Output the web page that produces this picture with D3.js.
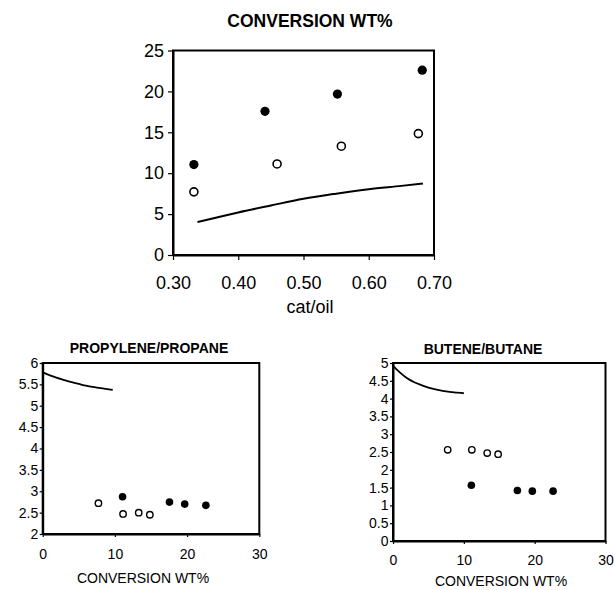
<!DOCTYPE html>
<html>
<head>
<meta charset="utf-8">
<script src="https://cdn.jsdelivr.net/npm/d3@7"></script>
<style>
  html, body { margin: 0; padding: 0; background: #fff; }
  svg { display: block; font-family: Arial, "Liberation Sans", sans-serif; }
</style>
</head>
<body>
<svg id="chart" width="615" height="590"></svg>
<script>
// Conversion (wt%) against catalyst/oil ratio, two catalyst series
const catOilFilled = [0.332, 0.441, 0.552, 0.682];
const convFilled   = [11.06, 17.56, 19.67, 22.6];
const catOilOpen   = [0.332, 0.4595, 0.558, 0.676];
const convOpen     = [7.72, 11.13, 13.3, 14.84];

// Reference curve for conversion vs cat/oil
const convCurveX = [0.3375, 0.40, 0.45, 0.50, 0.55, 0.60, 0.65, 0.683];
const convCurveY = [4.02, 5.2, 6.05, 6.87, 7.5, 8.05, 8.45, 8.74];

// Olefin / paraffin ratios against conversion
const propFilled = [2.87, 2.746, 2.70, 2.67];
const propOpen   = [2.72, 2.47, 2.50, 2.45];
const butFilled  = [1.565, 1.42, 1.40, 1.40];
const butOpen    = [2.56, 2.56, 2.47, 2.44];

// Reference curves for the ratio panels
const propCurveX = [0, 1, 2, 3, 4, 5, 6, 7, 8, 9.7];
const propCurveY = [5.78, 5.71, 5.65, 5.60, 5.55, 5.51, 5.47, 5.44, 5.41, 5.37];
const butCurveX  = [0, 0.5, 1, 2, 3, 4, 5, 6, 7, 8, 9, 10];
const butCurveY  = [4.92, 4.82, 4.73, 4.57, 4.46, 4.38, 4.31, 4.26, 4.22, 4.19, 4.17, 4.15];

// Tick values
const topXTicks  = [0.30, 0.40, 0.50, 0.60, 0.70];
const topYTicks  = [0, 5, 10, 15, 20, 25];
const convTicks  = [0, 10, 20, 30];
const propTicks  = [2, 2.5, 3, 3.5, 4, 4.5, 5, 5.5, 6];
const butTicks   = [0, 0.5, 1, 1.5, 2, 2.5, 3, 3.5, 4, 4.5, 5];

const svg = d3.select("#chart");

function panel(cfg) {
  const g = svg.append("g");
  const x = d3.scaleLinear().domain(cfg.xDomain).range([cfg.left, cfg.right]);
  const y = d3.scaleLinear().domain(cfg.yDomain).range([cfg.bottom, cfg.top]);

  // frame
  g.append("rect")
    .attr("x", cfg.left).attr("y", cfg.top)
    .attr("width", cfg.right - cfg.left).attr("height", cfg.bottom - cfg.top)
    .attr("fill", "none").attr("stroke", "#000").attr("stroke-width", cfg.frameW);

  const xAxis = g.append("g")
    .attr("transform", `translate(0,${cfg.bottom})`)
    .call(d3.axisBottom(x).tickValues(cfg.xTicks).tickFormat(cfg.xFmt)
      .tickSize(cfg.tick).tickSizeOuter(0).tickPadding(cfg.xPad));
  const yAxis = g.append("g")
    .attr("transform", `translate(${cfg.left},0)`)
    .call(d3.axisLeft(y).tickValues(cfg.yTicks).tickFormat(cfg.yFmt)
      .tickSize(cfg.tick).tickSizeOuter(0).tickPadding(cfg.yPad));
  [xAxis, yAxis].forEach(a => {
    a.select(".domain").attr("stroke", "#000").attr("stroke-width", cfg.frameW);
    a.selectAll(".tick line").attr("stroke", "#000").attr("stroke-width", 1.2);
    a.selectAll(".tick text").attr("fill", "#000")
      .style("font-size", cfg.tickFont + "px")
      .style("font-family", "Arial, 'Liberation Sans', sans-serif");
  });

  // reference curve
  g.append("path")
    .datum(d3.zip(cfg.curveX, cfg.curveY))
    .attr("fill", "none").attr("stroke", "#000").attr("stroke-width", cfg.curveW)
    .attr("d", d3.line().x(d => x(d[0])).y(d => y(d[1])).curve(d3.curveMonotoneX));

  // open markers
  g.selectAll(".open").data(d3.zip(cfg.openX, cfg.openY)).join("circle")
    .attr("cx", d => x(d[0])).attr("cy", d => y(d[1])).attr("r", cfg.rOpen)
    .attr("fill", "#fff").attr("stroke", "#000").attr("stroke-width", cfg.openW);

  // filled markers
  g.selectAll(".filled").data(d3.zip(cfg.filledX, cfg.filledY)).join("circle")
    .attr("cx", d => x(d[0])).attr("cy", d => y(d[1])).attr("r", cfg.rFilled)
    .attr("fill", "#000");

  // title and axis label
  g.append("text").attr("x", cfg.titleX).attr("y", cfg.titleY)
    .attr("text-anchor", "middle").style("font-weight", "bold")
    .style("font-size", cfg.titleFont + "px").text(cfg.title);
  g.append("text").attr("x", cfg.labelX).attr("y", cfg.labelY)
    .attr("text-anchor", "middle")
    .style("font-size", cfg.labelFont + "px").text(cfg.label);
}

// Conversion vs cat/oil
panel({
  left: 173, right: 434, top: 50.5, bottom: 255,
  xDomain: [0.30, 0.70], yDomain: [0, 25],
  xTicks: topXTicks, yTicks: topYTicks,
  xFmt: d3.format(".2f"), yFmt: d3.format("d"),
  tick: 5, xPad: 16, yPad: 4, tickFont: 18, frameW: 2,
  curveX: convCurveX, curveY: convCurveY, curveW: 2,
  openX: catOilOpen, openY: convOpen, rOpen: 4, openW: 1.6,
  filledX: catOilFilled, filledY: convFilled, rFilled: 4.6,
  title: "CONVERSION WT%", titleX: 310, titleY: 27, titleFont: 17.5,
  label: "cat/oil", labelX: 310, labelY: 313, labelFont: 18
});

// Propylene/propane vs conversion
panel({
  left: 42.7, right: 259.3, top: 363, bottom: 534,
  xDomain: [0, 30], yDomain: [2, 6],
  xTicks: convTicks, yTicks: propTicks,
  xFmt: d3.format("d"), yFmt: d3.format("~g"),
  tick: 3, xPad: 12, yPad: 1.5, tickFont: 14, frameW: 2,
  curveX: propCurveX, curveY: propCurveY, curveW: 1.8,
  openX: convOpen, openY: propOpen, rOpen: 3.2, openW: 1.4,
  filledX: convFilled, filledY: propFilled, rFilled: 3.8,
  title: "PROPYLENE/PROPANE", titleX: 149, titleY: 353, titleFont: 14,
  label: "CONVERSION WT%", labelX: 143, labelY: 583, labelFont: 14
});

// Butene/butane vs conversion
panel({
  left: 393, right: 605.5, top: 363, bottom: 541,
  xDomain: [0, 30], yDomain: [0, 5],
  xTicks: convTicks, yTicks: butTicks,
  xFmt: d3.format("d"), yFmt: d3.format("~g"),
  tick: 3, xPad: 11, yPad: 1.5, tickFont: 14, frameW: 2,
  curveX: butCurveX, curveY: butCurveY, curveW: 1.8,
  openX: convOpen, openY: butOpen, rOpen: 3.2, openW: 1.4,
  filledX: convFilled, filledY: butFilled, rFilled: 3.8,
  title: "BUTENE/BUTANE", titleX: 483, titleY: 354, titleFont: 14,
  label: "CONVERSION WT%", labelX: 501, labelY: 586, labelFont: 14
});
</script>
</body>
</html>
